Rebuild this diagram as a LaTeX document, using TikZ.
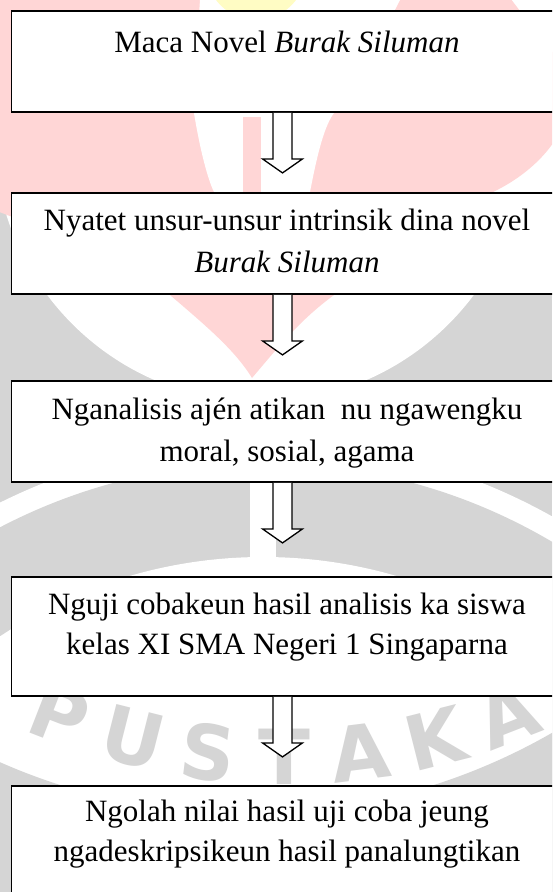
\documentclass[tikz,border=0pt]{standalone}
\usepackage{fontspec}
\setmainfont{Liberation Serif}
\newfontfamily\wmfont{DejaVu Sans}[BoldFont={DejaVu Sans Bold}]
\usetikzlibrary{calc}
\definecolor{wmpink}{RGB}{255,214,214}
\definecolor{wmgray}{RGB}{213,213,213}
\definecolor{wmyellow}{RGB}{255,252,196}
\begin{document}
\begin{tikzpicture}[x=1pt,y=-1pt,
  stepbox/.style={draw=black, line width=1.8pt, fill=white, rectangle, minimum width=551pt,
    anchor=north west, inner sep=0pt, outer sep=0pt},
  steptext/.style={anchor=base, inner sep=0pt, font=\fontsize{31}{41}\selectfont},
  hollow/.style={draw=black, line width=1.3pt, fill=white, line join=miter},
  wmletter/.style={font=\wmfont\bfseries\fontsize{76}{76}\selectfont, text=wmgray, inner sep=0pt}
]
\useasboundingbox (0,0) rectangle (552,892);
\clip (0,0) rectangle (552,892);

% ---------- watermark (background) ----------
\fill[wmgray] (0,200) rectangle (552,892);
\fill[white] (260.5,136) circle (266);
\fill[white] (263,1032) circle (591);
\fill[wmgray] (263,1032) circle (569);
\fill[white] (263,1032) circle (475);
\fill[white] (250,380) rectangle (276,560);
\begin{scope}
  \clip (0,690) rectangle (552,892);
  \fill[wmgray, even odd rule] (247,201) circle (613) (-100,0) rectangle (700,1000);
\end{scope}
\foreach \L [count=\i] in {P,U,S,T,A,K,A}{
  \pgfmathsetmacro\ang{90+(4-\i)*7.1}
  \node[wmletter, rotate={90-\ang}] (wl\i) at ([shift={(284,140)}]\ang:617) {\L};
}
% pink heart
\fill[wmpink] (252,378) .. controls (280,345) and (300,320) .. (334,295)
  .. controls (390,252) and (450,218) .. (493,192)
  .. controls (560,160) and (600,90) .. (540,40)
  .. controls (525,15) and (510,0) .. (490,-30)
  -- (-30,-30) -- (-30,200)
  .. controls (40,230) and (130,255) .. (170,295)
  .. controls (205,325) and (235,350) .. (252,378) -- cycle;
% white inner shape
\fill[white] (200,-30) -- (200,0) .. controls (196,60) and (192,100) .. (194,113)
  .. controls (200,150) and (208,180) .. (214,192) -- (240,262) -- (290,250) -- (310,192)
  .. controls (318,150) and (325,125) .. (334,113)
  .. controls (360,70) and (385,30) .. (400,0) -- (410,-30) -- cycle;
\fill[wmpink] (243,117) rectangle (261,270);
\fill[wmyellow] (256,-30) circle (50);

% ---------- diagram ----------
\node[stepbox, minimum height=101pt] (b1) at (11.5,11) {};
\node[stepbox, minimum height=101pt] (b2) at (11.5,193) {};
\node[stepbox, minimum height=101pt] (b3) at (11.5,381) {};
\node[stepbox, minimum height=119pt] (b4) at (11.5,577) {};
\node[stepbox, minimum height=120pt] (b5) at (11.5,786) {};

\node[steptext] (t1)  at (287,52)  {Maca Novel \textit{Burak Siluman}};
\node[steptext] (t2a) at (287,230) {Nyatet unsur-unsur intrinsik dina novel};
\node[steptext] (t2b) at (287,272) {\textit{Burak Siluman}};
\node[steptext] (t3a) at (287,419) {Nganalisis ajén atikan\ \ nu ngawengku};
\node[steptext] (t3b) at (287,461) {moral, sosial, agama};
\node[steptext] (t4a) at (287,614) {Nguji cobakeun hasil analisis ka siswa};
\node[steptext] (t4b) at (287,654) {kelas XI SMA Negeri 1 Singaparna};
\node[steptext] (t5a) at (287,821) {Ngolah nilai hasil uji coba jeung};
\node[steptext] (t5b) at (287,861) {ngadeskripsikeun hasil panalungtikan};

\coordinate (ax) at (282.5,0);
\foreach \s in {b1,b2,b3,b4}{
  \draw[hollow] ($(\s.south -| ax)+(-9.5,0.9)$) -- ++(0,46) -- ++(-10.5,0)
    -- ++(20,14) -- ++(20,-14) -- ++(-10.5,0) -- ++(0,-46);
}
\end{tikzpicture}
\end{document}
